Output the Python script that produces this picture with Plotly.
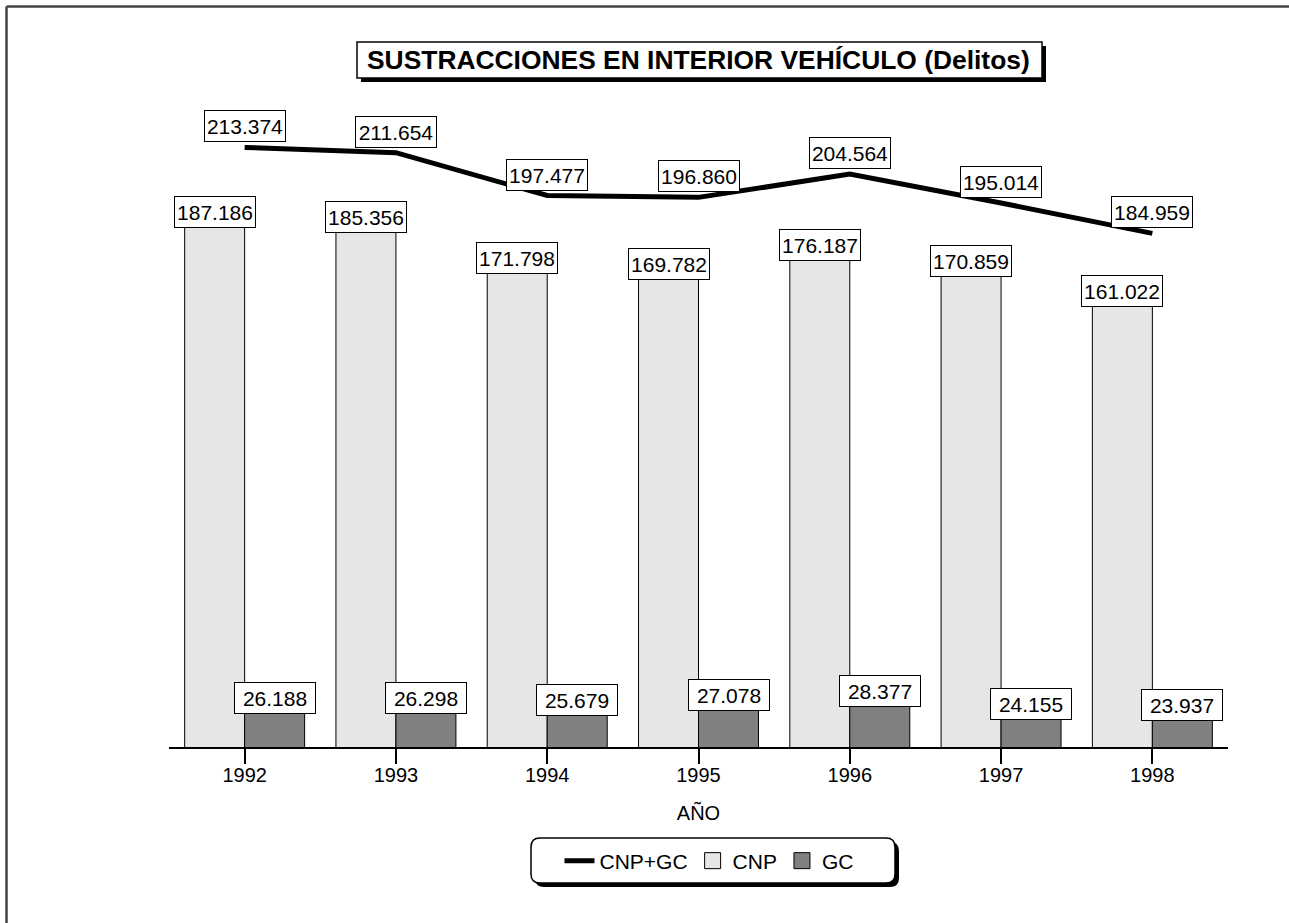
import plotly.graph_objects as go

# ---- data ----
years = ["1992", "1993", "1994", "1995", "1996", "1997", "1998"]
cnp = [187186, 185356, 171798, 169782, 176187, 170859, 161022]
gc = [26188, 26298, 25679, 27078, 28377, 24155, 23937]
total = [213374, 211654, 197477, 196860, 204564, 195014, 184959]

title_text = "SUSTRACCIONES EN INTERIOR VEHÍCULO (Delitos)"
x_title = "AÑO"
legend_names = ["CNP+GC", "CNP", "GC"]

# ---- layout geometry (pixels) ----
FW, FH = 1289, 923
ML, MR, MT, MB = 169, 61, 100, 176
PW = FW - ML - MR
PH = FH - MT - MB
PB = FH - MB
Y0 = 14934
YSCALE = 331  # value units per pixel
FONT = "Liberation Sans, Arial, Helvetica, sans-serif"
CNP_COLOR = "#e6e6e6"
GC_COLOR = "#808080"


def px2x(px):
    return (px - ML) / PW


def py2y(py):
    return (PB - py) / PH


def fmt(v):
    return f"{v:,}".replace(",", ".")


fig = go.Figure()
fig.add_trace(go.Scatter(x=years, y=total, mode="lines", name=legend_names[0],
                         line=dict(color="black", width=5), cliponaxis=False))
fig.add_trace(go.Bar(x=years, y=cnp, name=legend_names[1], showlegend=False,
                     legendgroup="cnp",
                     marker=dict(color=CNP_COLOR, line=dict(color="black", width=1))))
fig.add_trace(go.Bar(x=years, y=gc, name=legend_names[2], showlegend=False,
                     legendgroup="gc",
                     marker=dict(color=GC_COLOR, line=dict(color="black", width=1))))
# legend swatches (larger squares than the default bar legend symbol)
fig.add_trace(go.Scatter(x=[None], y=[None], mode="markers", name=legend_names[1],
                         legendgroup="cnp",
                         marker=dict(symbol="square", size=16, color=CNP_COLOR,
                                     line=dict(color="black", width=1))))
fig.add_trace(go.Scatter(x=[None], y=[None], mode="markers", name=legend_names[2],
                         legendgroup="gc",
                         marker=dict(symbol="square", size=16, color=GC_COLOR,
                                     line=dict(color="black", width=1))))

annotations = []


def label(i, v, xshift, yshift):
    return dict(x=i, y=v, xref="x", yref="y", text=fmt(v),
                xshift=xshift, yshift=yshift, showarrow=False,
                xanchor="center", yanchor="bottom", width=78, height=28,
                bgcolor="white", bordercolor="black", borderwidth=1, borderpad=1,
                font=dict(family=FONT, size=21, color="black"))


for i, t in enumerate(total):
    annotations.append(label(i, t, 0, 5))
for i, v in enumerate(cnp):
    annotations.append(label(i, v, -30, -1))
for i, v in enumerate(gc):
    annotations.append(label(i, v, 30, -1))

# title
annotations.append(dict(xref="paper", yref="paper", x=px2x(698.5), y=py2y(60),
                        text="<b>" + title_text + "</b>", showarrow=False,
                        xanchor="center", yanchor="middle",
                        font=dict(family=FONT, size=26.4, color="black")))

shapes = []
# outer frame lines
shapes.append(dict(type="line", xref="paper", yref="paper",
                   x0=px2x(6.5), x1=px2x(FW), y0=py2y(6.5), y1=py2y(6.5),
                   line=dict(color="#444444", width=2.5)))
shapes.append(dict(type="line", xref="paper", yref="paper",
                   x0=px2x(6.5), x1=px2x(6.5), y0=py2y(6.5), y1=py2y(FH),
                   line=dict(color="#444444", width=2.5)))
# title box with shadow
shapes.append(dict(type="rect", xref="paper", yref="paper", layer="below",
                   x0=px2x(361), x1=px2x(1046), y0=py2y(46), y1=py2y(82),
                   fillcolor="black", line=dict(width=0)))
shapes.append(dict(type="rect", xref="paper", yref="paper", layer="below",
                   x0=px2x(357), x1=px2x(1042), y0=py2y(42), y1=py2y(78),
                   fillcolor="white", line=dict(color="black", width=1.5)))


def rounded(x0, y0, x1, y1, r):
    X = lambda p: px2x(p)
    Y = lambda p: py2y(p)
    return (f"M {X(x0 + r)},{Y(y0)} L {X(x1 - r)},{Y(y0)} "
            f"Q {X(x1)},{Y(y0)} {X(x1)},{Y(y0 + r)} L {X(x1)},{Y(y1 - r)} "
            f"Q {X(x1)},{Y(y1)} {X(x1 - r)},{Y(y1)} L {X(x0 + r)},{Y(y1)} "
            f"Q {X(x0)},{Y(y1)} {X(x0)},{Y(y1 - r)} L {X(x0)},{Y(y0 + r)} "
            f"Q {X(x0)},{Y(y0)} {X(x0 + r)},{Y(y0)} Z")


shapes.append(dict(type="path", xref="paper", yref="paper", layer="below",
                   path=rounded(535, 842, 899, 887, 9),
                   fillcolor="black", line=dict(width=0)))
shapes.append(dict(type="path", xref="paper", yref="paper", layer="below",
                   path=rounded(531, 838, 895, 883, 9),
                   fillcolor="white", line=dict(color="black", width=1.5)))

fig.update_layout(
    width=FW, height=FH,
    margin=dict(l=ML, r=MR, t=MT, b=MB, pad=0),
    paper_bgcolor="white", plot_bgcolor="rgba(0,0,0,0)",
    font=dict(family=FONT, size=20, color="black"),
    barmode="group", bargap=0.207, bargroupgap=0,
    showlegend=True,
    legend=dict(orientation="h", x=px2x(709), xanchor="center",
                y=py2y(861), yanchor="middle", bgcolor="rgba(0,0,0,0)",
                borderwidth=0, font=dict(family=FONT, size=21, color="black"),
                traceorder="normal", itemsizing="trace"),
    xaxis=dict(type="category", range=[-0.5, 6.5], showline=True,
               linecolor="black", linewidth=1.5, ticks="outside", ticklen=15,
               tickcolor="black", tickwidth=1.5, showgrid=False,
               ticklabelstandoff=-6,
               tickfont=dict(family=FONT, size=20, color="black"),
               title=dict(text=x_title, font=dict(family=FONT, size=20, color="black"),
                          standoff=21)),
    yaxis=dict(range=[Y0, Y0 + PH * YSCALE], showticklabels=False, showline=False,
               zeroline=False, showgrid=False, ticks=""),
    annotations=annotations, shapes=shapes,
)

fig.write_html("out.html", config={"displayModeBar": False},
               post_script="document.body.style.margin='0';")
